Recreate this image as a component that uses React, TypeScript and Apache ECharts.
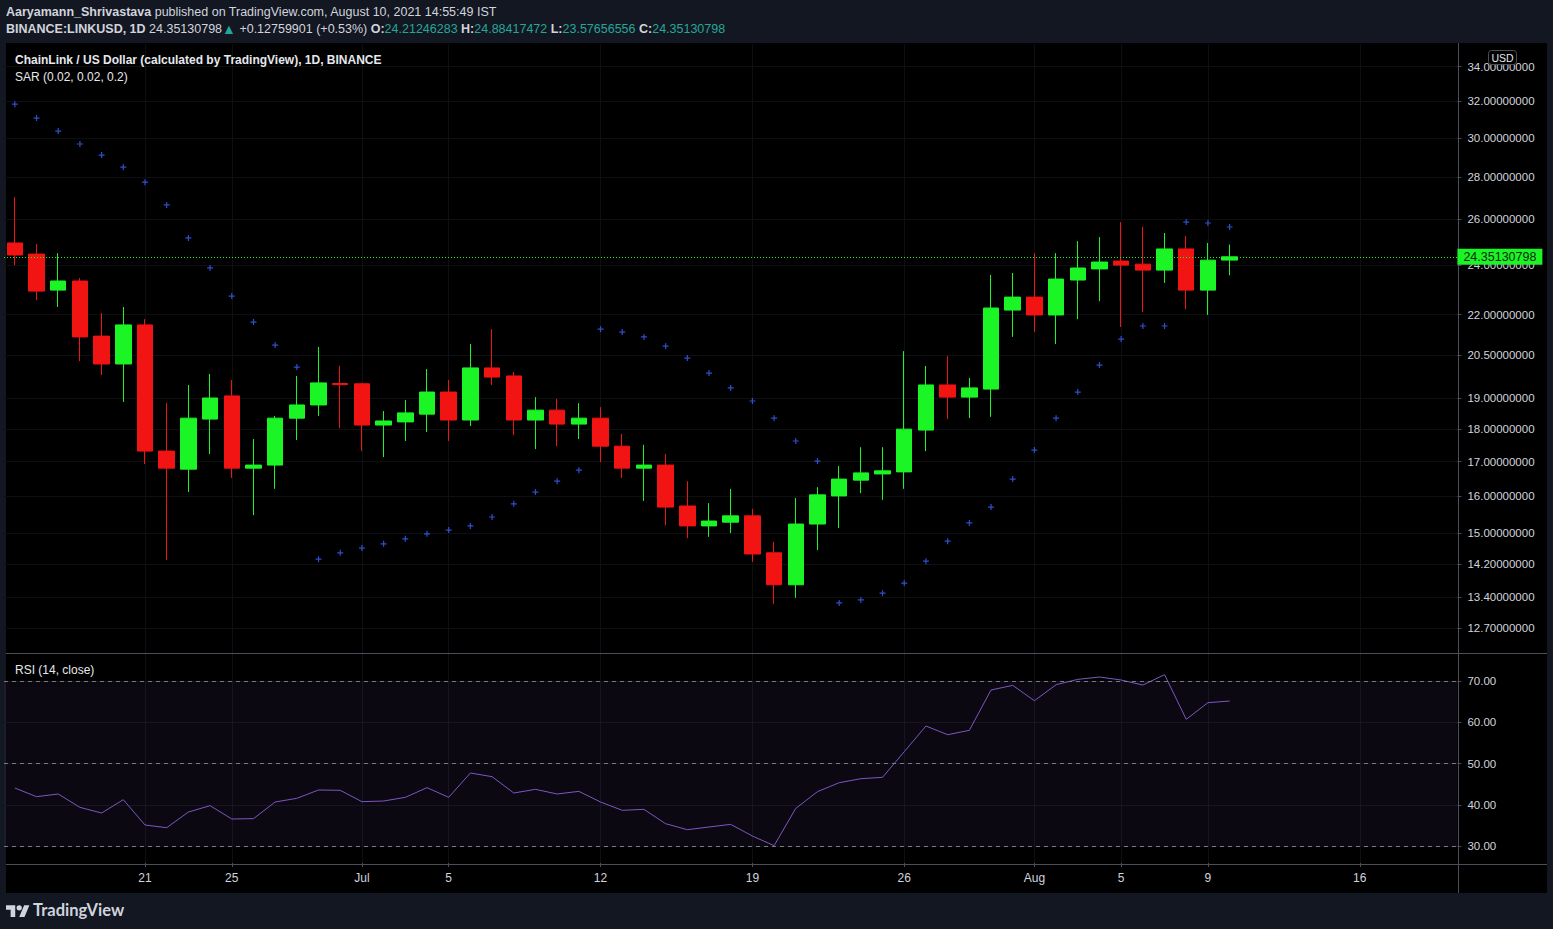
import React, { useEffect, useRef } from 'react';
import * as echarts from 'echarts';

// ---------- data ----------
const startDate = '2021-06-15';
const totalDays = 67; // Jun 15 .. Aug 20 (axis extends past last candle)

const opens = [
  24.95, 24.47, 22.97, 23.34, 21.19, 20.18, 21.61, 17.32, 16.78, 18.32,
  19.08, 16.81, 16.90, 18.35, 18.78, 19.50, 19.49, 18.13, 18.23, 18.48,
  19.21, 18.29, 20.04, 19.76, 18.29, 18.61, 18.16, 18.35, 17.47, 16.81,
  16.90, 15.73, 15.19, 15.29, 15.46, 14.49, 13.70, 15.24, 16.01, 16.46,
  16.64, 16.70, 17.97, 19.45, 19.04, 19.31, 22.18, 22.69, 21.99, 23.38,
  23.84, 24.17, 24.04, 23.79, 24.69, 22.97, 24.21246283,
];
const closes = [
  24.43, 22.93, 23.34, 21.16, 20.18, 21.61, 17.32, 16.81, 18.35, 19.01,
  16.81, 16.90, 18.35, 18.78, 19.52, 19.46, 18.13, 18.26, 18.52, 19.21,
  18.29, 20.04, 19.72, 18.29, 18.61, 18.16, 18.35, 17.47, 16.81, 16.90,
  15.70, 15.19, 15.32, 15.46, 14.46, 13.70, 15.24, 16.04, 16.49, 16.67,
  16.73, 18.00, 19.45, 19.04, 19.35, 22.26, 22.69, 21.99, 23.42, 23.88,
  24.13, 24.00, 23.79, 24.69, 22.97, 24.21, 24.35130798,
];
const lows = [
  24.00, 22.57, 22.30, 20.28, 19.79, 18.88, 16.93, 14.31, 16.12, 17.23,
  16.52, 15.48, 16.21, 17.66, 18.42, 18.03, 17.32, 17.14, 17.63, 17.91,
  17.63, 18.10, 19.45, 17.81, 17.38, 17.47, 17.69, 16.99, 16.52, 15.87,
  15.21, 14.87, 14.90, 15.00, 14.26, 13.25, 13.39, 14.56, 15.13, 16.09,
  15.90, 16.21, 17.32, 18.32, 18.35, 18.39, 21.16, 21.34, 20.90, 21.83,
  22.53, 21.53, 22.10, 23.26, 22.22, 21.99, 23.57656556,
];
const highs = [
  27.04, 24.90, 24.51, 23.46, 22.07, 22.30, 21.83, 18.84, 19.45, 19.83,
  19.62, 17.69, 18.42, 19.76, 20.79, 20.11, 19.52, 18.58, 18.94, 20.00,
  19.62, 20.90, 21.45, 19.90, 19.04, 18.98, 18.84, 18.71, 17.85, 17.51,
  17.23, 16.43, 15.81, 16.21, 15.65, 14.77, 15.95, 16.26, 16.87, 17.44,
  17.44, 20.64, 20.11, 20.46, 19.69, 23.59, 23.67, 24.51, 24.51, 25.03,
  25.21, 25.88, 25.66, 25.39, 25.25, 24.95, 24.88417472,
];
const sarValues = [
  31.83, 31.06, 30.36, 29.68, 29.11, 28.50, 27.76, 26.67, 25.17, 23.88,
  22.73, 21.72, 20.86, 20.07, 14.33, 14.49, 14.61, 14.72, 14.85, 14.98,
  15.08, 15.19, 15.43, 15.79, 16.12, 16.43, 16.75, 21.45, 21.34, 21.16,
  20.82, 20.39, 19.86, 19.35, 18.91, 18.35, 17.63, 17.02, 13.27, 13.34,
  13.50, 13.74, 14.28, 14.79, 15.27, 15.70, 16.49, 17.35, 18.35, 19.21,
  20.14, 21.08, 21.57, 21.57, 25.88, 25.84, 25.66,
];
const rsiValues = [
  44.06, 41.96, 42.61, 39.37, 38.00, 41.23, 35.09, 34.44, 38.24, 39.78,
  36.55, 36.63, 40.67, 41.56, 43.58, 43.50, 40.75, 40.91, 41.80, 44.14,
  41.80, 47.70, 46.81, 42.85, 43.74, 42.61, 43.25, 40.67, 38.65, 38.89,
  35.41, 33.96, 34.61, 35.25, 32.42, 30.08, 39.13, 43.17, 45.35, 46.32,
  46.65, 52.87, 59.09, 56.99, 58.04, 67.82, 68.95, 65.23, 69.11, 70.40,
  70.97, 70.24, 69.03, 71.54, 60.71, 64.75, 65.15,
];
const priceTicks = [34, 32, 30, 28, 26, 24, 22, 20.5, 19, 18, 17, 16, 15, 14.2, 13.4, 12.7];
const rsiTicks = [30, 40, 50, 60, 70];
const rsiLevels = [30, 50, 70];
const dateTicks = [
  '2021-06-21', '2021-06-25', '2021-07-01', '2021-07-05', '2021-07-12',
  '2021-07-19', '2021-07-26', '2021-08-01', '2021-08-05', '2021-08-09', '2021-08-16',
];
const lastPrice = 24.35130798;
const monthNames = ['Jan', 'Feb', 'Mar', 'Apr', 'May', 'Jun', 'Jul', 'Aug', 'Sep', 'Oct', 'Nov', 'Dec'];

// ---------- helpers ----------
const dates: string[] = (() => {
  const out: string[] = [];
  const d0 = new Date(startDate + 'T00:00:00Z').getTime();
  for (let i = 0; i < totalDays; i++) {
    out.push(new Date(d0 + i * 86400000).toISOString().slice(0, 10));
  }
  return out;
})();
const isTick = (_i: number, v: string) => dateTicks.indexOf(v) >= 0;
const fmtDate = (v: string) => {
  const day = parseInt(v.slice(8, 10), 10);
  const m = parseInt(v.slice(5, 7), 10);
  return day === 1 ? monthNames[m - 1] : String(day);
};

const FONT = '"Liberation Sans", Arial, sans-serif';
const TXT = '#d1d4dc';
const GREEN = '#1bf526';
const RED = '#f21313';
const GRID = '#0d0f13';
const LINEC = '#4c4f5a';

echarts.graphic.registerShape(
  'tvlogo',
  echarts.graphic.extendPath(
    'M14 22H7V11H0V4h14v18zM28 22h-8l7.5-18h8L28 22zM16 8a4 4 0 1 0 8 0a4 4 0 1 0 -8 0z',
    {}
  )
);

export default function App() {
  const ref = useRef<HTMLDivElement>(null);
  useEffect(() => {
    document.body.style.margin = '0';
    document.body.style.background = '#131722';
    if (!ref.current) return;
    const chart = echarts.init(ref.current, undefined, { renderer: 'svg' });
    const candleData = opens.map((o, i) => [o, closes[i], lows[i], highs[i]]);

    const option: any = {
      animation: false,
      backgroundColor: '#131722',
      textStyle: { fontFamily: FONT },
      grid: [
        { left: 4, top: 44, width: 1453.4, height: 609, containLabel: false, outerBoundsMode: 'none' },
        { left: 4, top: 654, width: 1453.4, height: 209, containLabel: false, outerBoundsMode: 'none' },
      ],
      xAxis: [
        {
          type: 'category', gridIndex: 0, data: dates, boundaryGap: true,
          axisLine: { show: false }, axisTick: { show: false }, axisLabel: { show: false },
          splitLine: { show: true, interval: isTick, alignWithLabel: true, lineStyle: { color: GRID, width: 1 } },
        },
        {
          type: 'category', gridIndex: 1, data: dates, boundaryGap: true,
          axisLine: { show: false },
          axisTick: { show: true, interval: isTick, alignWithLabel: true, length: 4, lineStyle: { color: LINEC } },
          axisLabel: { interval: isTick, formatter: fmtDate, color: TXT, fontSize: 12, margin: 9, fontFamily: FONT },
          splitLine: { show: true, interval: isTick, alignWithLabel: true, lineStyle: { color: GRID, width: 1 } },
        },
      ],
      yAxis: [
        {
          type: 'log', gridIndex: 0, position: 'right', logBase: 10, min: 12.155, max: 35.37,
          axisLine: { show: false },
          axisTick: { show: true, customValues: priceTicks, length: 4, lineStyle: { color: LINEC } },
          axisLabel: {
            customValues: priceTicks, formatter: (v: number) => Number(v).toFixed(8),
            color: TXT, fontSize: 11.5, margin: 10, fontFamily: FONT,
          },
          splitLine: { show: true, lineStyle: { color: GRID, width: 1 } },
        },
        {
          type: 'value', gridIndex: 1, position: 'right', min: 25.88, max: 76.55,
          axisLine: { show: false },
          axisTick: { show: true, customValues: rsiTicks, length: 4, lineStyle: { color: LINEC } },
          axisLabel: {
            customValues: rsiTicks, formatter: (v: number) => Number(v).toFixed(2),
            color: TXT, fontSize: 11.5, margin: 10, fontFamily: FONT,
          },
          splitLine: { show: true, lineStyle: { color: GRID, width: 1 } },
        },
      ],
      series: [
        {
          type: 'candlestick', xAxisIndex: 0, yAxisIndex: 0, data: candleData,
          barWidth: 16,
          itemStyle: { color: GREEN, color0: RED, borderColor: GREEN, borderColor0: RED, borderWidth: 1 },
          silent: true,
          markLine: {
            silent: true, symbol: ['none', 'none'], animation: false,
            lineStyle: { color: GREEN, type: [1, 2], width: 1 },
            label: {
              show: true, position: 'end', distance: 0,
              formatter: () => lastPrice.toFixed(8),
              backgroundColor: GREEN, color: '#0b2a0b', fontSize: 12.5, fontFamily: FONT,
              padding: [2, 6, 1, 6],
            },
            data: [{ yAxis: lastPrice }],
          },
        },
        {
          type: 'scatter', xAxisIndex: 0, yAxisIndex: 0, data: sarValues,
          symbol: 'path://M2 0h1v2h2v1h-2v2h-1v-2h-2v-1h2z', symbolSize: 6,
          itemStyle: { color: '#3a62ff' }, silent: true, z: 3,
        },
        {
          type: 'line', xAxisIndex: 1, yAxisIndex: 1, data: rsiValues,
          symbol: 'none', lineStyle: { color: '#7e57c2', width: 1 }, silent: true,
          markArea: {
            silent: true,
            itemStyle: { color: 'rgba(126,87,194,0.09)' },
            data: [[{ yAxis: 30 }, { yAxis: 70 }]],
          },
          markLine: {
            silent: true, symbol: ['none', 'none'], animation: false,
            lineStyle: { color: '#787b86', type: [4, 4], width: 1 },
            label: { show: false },
            data: rsiLevels.map((v) => ({ yAxis: v })),
          },
        },
      ],
      graphic: [
        { type: 'rect', z: -10, shape: { x: 6, y: 43, width: 1541, height: 850 }, style: { fill: '#000000' }, silent: true },
        { type: 'line', z: 5, shape: { x1: 1458.5, y1: 43, x2: 1458.5, y2: 893 }, style: { stroke: LINEC, lineWidth: 1 }, silent: true },
        { type: 'line', z: 5, shape: { x1: 6, y1: 653.5, x2: 1547, y2: 653.5 }, style: { stroke: LINEC, lineWidth: 1 }, silent: true },
        { type: 'line', z: 5, shape: { x1: 6, y1: 864.5, x2: 1547, y2: 864.5 }, style: { stroke: LINEC, lineWidth: 1 }, silent: true },
        {
          type: 'text', x: 6, y: 12, z: 10, silent: true,
          style: {
            text: '{b|Aaryamann_Shrivastava} published on TradingView.com, August 10, 2021 14:55:49 IST',
            fill: TXT, font: `12.5px ${FONT}`, verticalAlign: 'middle',
            rich: { b: { fontWeight: 'bold', fill: TXT, fontSize: 12.5, fontFamily: FONT } },
          },
        },
        {
          type: 'text', x: 6, y: 29, z: 10, silent: true,
          style: {
            text: '{b|BINANCE:LINKUSD, 1D} 24.35130798{g|▲} +0.12759901 (+0.53%) {b|O:}{t|24.21246283} {b|H:}{t|24.88417472} {b|L:}{t|23.57656556} {b|C:}{t|24.35130798}',
            fill: TXT, font: `12.5px ${FONT}`, verticalAlign: 'middle',
            rich: {
              b: { fontWeight: 'bold', fill: TXT, fontSize: 12.5, fontFamily: FONT },
              t: { fill: '#26a69a', fontSize: 12.5, fontFamily: FONT },
              g: { fill: '#26a69a', fontSize: 14, fontFamily: FONT },
            },
          },
        },
        {
          type: 'text', x: 15, y: 60, z: 10, silent: true,
          style: { text: 'ChainLink / US Dollar (calculated by TradingView), 1D, BINANCE', fill: '#e6e8ee', font: `bold 12px ${FONT}`, verticalAlign: 'middle' },
        },
        {
          type: 'text', x: 15, y: 77, z: 10, silent: true,
          style: { text: 'SAR (0.02, 0.02, 0.2)', fill: '#e6e8ee', font: `12px ${FONT}`, verticalAlign: 'middle' },
        },
        {
          type: 'text', x: 15, y: 670, z: 10, silent: true,
          style: { text: 'RSI (14, close)', fill: '#e6e8ee', font: `12px ${FONT}`, verticalAlign: 'middle' },
        },
        { type: 'rect', z: 10, silent: true, shape: { x: 1488.5, y: 50.5, width: 28, height: 14, r: 3 }, style: { fill: '#000', stroke: LINEC, lineWidth: 1 } },
        {
          type: 'text', x: 1502.5, y: 58, z: 11, silent: true,
          style: { text: 'USD', fill: '#e6e8ee', font: `10.5px ${FONT}`, align: 'center', verticalAlign: 'middle' },
        },
        { type: 'tvlogo', x: 6, y: 902.5, scaleX: 0.66, scaleY: 0.66, z: 10, silent: true, style: { fill: '#d1d4dc' } },
        {
          type: 'text', x: 33, y: 910, z: 10, silent: true,
          style: { text: 'TradingView', fill: '#d1d4dc', font: `bold 16.5px Lato, ${FONT}`, verticalAlign: 'middle' },
        },
      ],
    };
    chart.setOption(option);
    return () => chart.dispose();
  }, []);
  return <div ref={ref} style={{ position: 'absolute', left: 0, top: 0, width: 1553, height: 929 }} />;
}
